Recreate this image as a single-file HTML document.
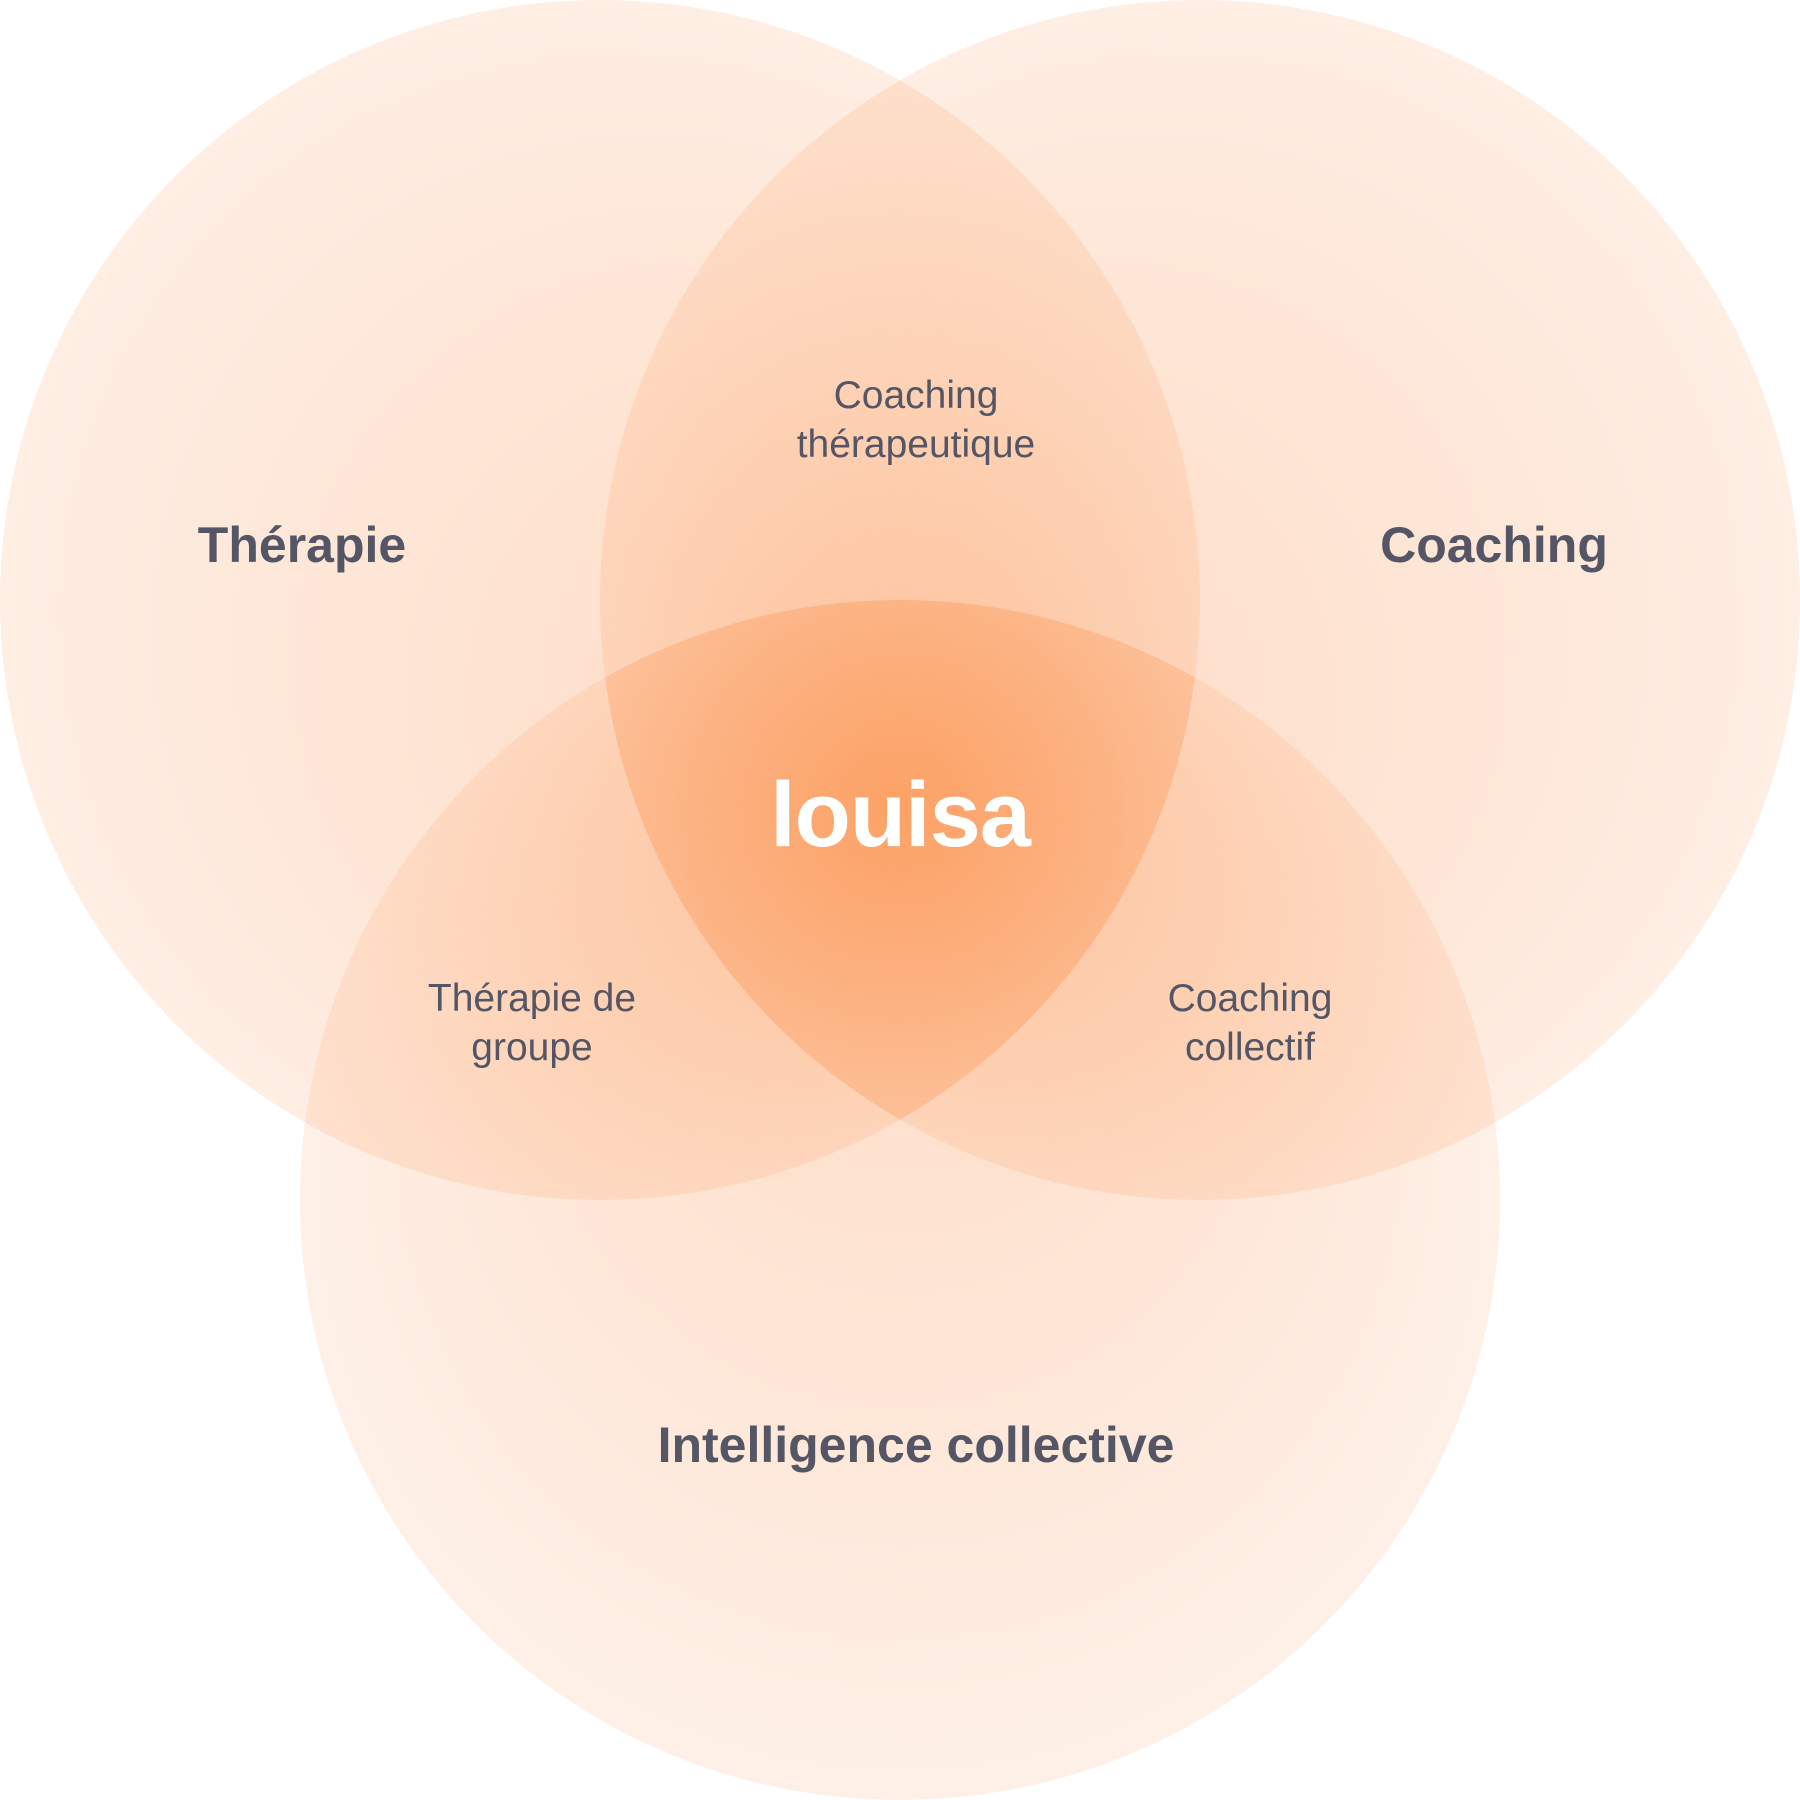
<!DOCTYPE html>
<html><head><meta charset="utf-8"><style>
html,body{margin:0;padding:0;background:#fff;}
svg{display:block}
text{font-family:"Liberation Sans","DejaVu Sans",sans-serif;fill:#545665;text-anchor:middle}
.b{font-weight:bold;font-size:50px}
.s{font-size:39px}
</style></head><body>
<svg width="1800" height="1800" viewBox="0 0 1800 1800" xmlns="http://www.w3.org/2000/svg">
<defs>
<radialGradient id="gl" cx="600" cy="600" r="600" gradientUnits="userSpaceOnUse" fx="900" fy="800">
<stop offset="0" stop-color="#fb8d45" stop-opacity="0.33"/>
<stop offset="1" stop-color="#fb8d45" stop-opacity="0.15"/>
</radialGradient>
<radialGradient id="gr" cx="1200" cy="600" r="600" gradientUnits="userSpaceOnUse" fx="900" fy="800">
<stop offset="0" stop-color="#fb8d45" stop-opacity="0.33"/>
<stop offset="1" stop-color="#fb8d45" stop-opacity="0.15"/>
</radialGradient>
<radialGradient id="gb" cx="900" cy="1200" r="600" gradientUnits="userSpaceOnUse" fx="900" fy="800">
<stop offset="0" stop-color="#fb8d45" stop-opacity="0.33"/>
<stop offset="1" stop-color="#fb8d45" stop-opacity="0.13"/>
</radialGradient>
<radialGradient id="gc" cx="900" cy="815" r="320" gradientUnits="userSpaceOnUse">
<stop offset="0" stop-color="#fb8d45" stop-opacity="0.4"/>
<stop offset="1" stop-color="#fb8d45" stop-opacity="0.15"/>
</radialGradient>
<clipPath id="cl"><circle cx="600" cy="600" r="600"/></clipPath>
<clipPath id="cr"><circle cx="1200" cy="600" r="600"/></clipPath>
<clipPath id="cb"><circle cx="900" cy="1200" r="600"/></clipPath>
</defs>
<circle cx="600" cy="600" r="600" fill="url(#gl)"/>
<circle cx="1200" cy="600" r="600" fill="url(#gr)"/>
<circle cx="900" cy="1200" r="600" fill="url(#gb)"/>
<g clip-path="url(#cl)"><g clip-path="url(#cr)"><g clip-path="url(#cb)">
<rect x="0" y="0" width="1800" height="1800" fill="url(#gc)"/>
</g></g></g>
<text class="b" x="302" y="562">Thérapie</text>
<text class="b" x="1494" y="562">Coaching</text>
<text class="b" x="916" y="1462">Intelligence collective</text>
<text class="s" x="916" y="408">Coaching</text>
<text class="s" x="916" y="457">thérapeutique</text>
<text class="s" x="532" y="1011">Thérapie de</text>
<text class="s" x="532" y="1060">groupe</text>
<text class="s" x="1250" y="1011">Coaching</text>
<text class="s" x="1250" y="1060">collectif</text>
<text x="900" y="846" style="fill:#fff;font-weight:bold;font-size:92px;font-family:'Liberation Sans',sans-serif;letter-spacing:-1px">louisa</text>
</svg>
</body></html>
